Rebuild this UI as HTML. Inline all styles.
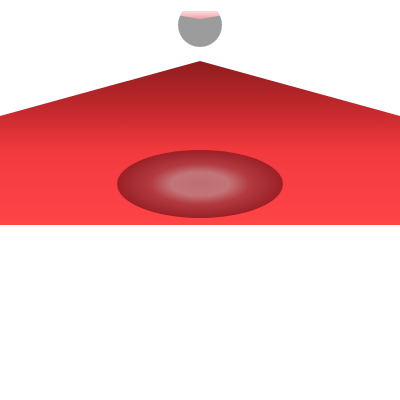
<!DOCTYPE html>
<html><head><meta charset="utf-8"><style>html,body{margin:0;padding:0;background:#fff;width:400px;height:400px;overflow:hidden}</style></head>
<body>
<svg width="400" height="400" viewBox="0 0 400 400" xmlns="http://www.w3.org/2000/svg">
<defs>
<linearGradient id="pg" x1="0" y1="0" x2="0" y2="1">
<stop offset="0" stop-color="#8e1c1e"/><stop offset="0.3" stop-color="#c4292d"/><stop offset="0.55" stop-color="#f23a3e"/><stop offset="1" stop-color="#ff4448"/>
</linearGradient>
<radialGradient id="eg" cx="0.5" cy="0.5" r="0.5">
<stop offset="0" stop-color="#bc6e72"/><stop offset="0.35" stop-color="#c27478"/><stop offset="0.6" stop-color="#b23a40"/><stop offset="1" stop-color="#9a2026"/>
</radialGradient>
<linearGradient id="pk" x1="0" y1="0" x2="0" y2="1">
<stop offset="0" stop-color="#fbdcdd"/><stop offset="1" stop-color="#f0a0a4"/>
</linearGradient>
<clipPath id="sc"><rect x="0" y="11" width="400" height="400"/></clipPath>
<clipPath id="cc"><circle cx="200" cy="25" r="22"/></clipPath>
</defs>
<g clip-path="url(#sc)">
<circle cx="200" cy="25" r="22" fill="#9c9c9c"/>
<path clip-path="url(#cc)" d="M176 11 L224 11 L224 15 L200 19 L176 15 Z" fill="url(#pk)"/>
</g>
<polygon points="200,61 400,116 400,225 0,225 0,116" fill="url(#pg)"/>
<ellipse cx="200" cy="184" rx="83" ry="34" fill="url(#eg)"/>
</svg>
</body></html>
